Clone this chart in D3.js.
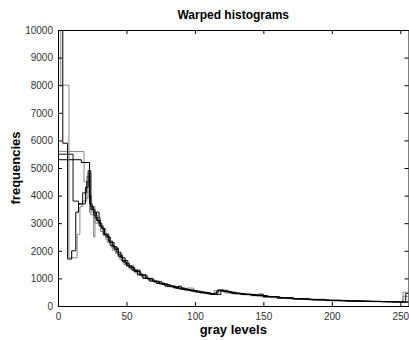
<!DOCTYPE html>
<html>
<head>
<meta charset="utf-8">
<script src="https://cdn.jsdelivr.net/npm/d3@7"></script>
<style>
  html, body { margin: 0; padding: 0; background: #fff; }
  svg { display: block; }
  text { font-family: "Liberation Sans", Arial, sans-serif; }
</style>
</head>
<body>
<div id="chart"></div>
<script>
// ---------- data ----------
const title = "Warped histograms";
const xLabel = "gray levels";
const yLabel = "frequencies";
const xTicks = [0, 50, 100, 150, 200, 250];
const yTicks = [0, 1000, 2000, 3000, 4000, 5000, 6000, 7000, 8000, 9000, 10000];

const s1Edges = [0,2,8,14,16,18,21,23,25,27,29,31,33,35,37,40,43,46,49,52,55,58,62,66,70,75,80,86,92,98,104,110,114,118,122,128,134,140,148,156,166,176,188,200,215,230,245,252,256];
const s1Values = [10000,8000,1750,2600,3600,3800,4700,3400,3600,3000,3200,2700,2800,2400,2300,2000,1900,1650,1500,1350,1250,1100,1050,950,860,800,700,640,580,520,470,430,560,540,470,430,410,370,330,300,270,240,210,190,175,160,150,350];

const s2Edges = [0,3.5,7,10,13,15,20,22,24,26,28,30,32,34,36,38,41,44,47,50,54,58,62,67,72,78,84,88,90,97,104,111,115,119,124,130,137,145,153,162,172,183,195,208,222,236,250,256];
const s2Values = [10000,5900,1700,2000,3400,3700,4300,4900,3500,3300,3400,2900,2800,2600,2500,2200,2100,1800,1600,1450,1300,1150,1000,900,820,720,660,720,600,540,480,430,420,570,500,450,420,380,340,300,270,240,210,190,170,155,140];

const s3Edges = [0,11,15,18,21,23,25,27,29,31,33,35,38,41,44,47,51,55,60,65,70,76,82,88,95,102,109,114,117,121,127,134,142,146,150,160,170,182,195,210,225,240,254,256];
const s3Values = [5500,3800,3700,4100,4500,3700,3500,3200,3100,2900,2600,2500,2300,2050,1850,1650,1450,1300,1120,980,880,780,700,620,560,500,440,470,580,520,460,420,380,430,330,290,260,230,200,180,165,150,450];

const s4Edges = [0,17,23,24,26,28,30,32,34,37,40,43,46,49,52,56,60,64,69,74,80,86,93,100,107,112,116,120,126,133,141,150,160,172,185,198,212,228,244,256];
const s4Values = [5300,5200,4000,3600,3400,3100,3000,2800,2600,2350,2150,1950,1750,1550,1400,1250,1130,1000,900,800,720,650,580,510,460,420,550,530,470,430,390,340,290,250,220,195,175,160,145];

const s5Edges = [0,19,21,22,24,26,27,29,31,33,36,39,42,45,48,52,56,61,66,72,78,85,92,94,99,106,112,116,121,128,136,145,155,166,178,191,205,220,236,252,256];
const s5Values = [5600,4500,3900,4800,3300,2500,3300,3000,2700,2550,2300,2100,1900,1700,1500,1350,1200,1050,920,830,740,660,590,650,520,470,430,580,500,450,410,360,310,270,240,210,185,165,150,500];

const seriesList = [
  { edges: s5Edges, values: s5Values, color: "#8a8a8a" },
  { edges: s1Edges, values: s1Values, color: "#8a8a8a" },
  { edges: s3Edges, values: s3Values, color: "#111" },
  { edges: s4Edges, values: s4Values, color: "#000" },
  { edges: s2Edges, values: s2Values, color: "#000" }
];

// ---------- layout ----------
const W = 409, H = 340;
const margin = { left: 58, top: 30, bottom: 34 };
const plotW = 350.5, plotH = H - margin.top - margin.bottom; // 276

const svg = d3.select("#chart").append("svg").attr("width", W).attr("height", H);

const xScale = d3.scaleLinear().domain([0, 256]).range([margin.left, margin.left + plotW]);
const yScale = d3.scaleLinear().domain([0, 10000]).range([margin.top + plotH, margin.top]);

svg.append("defs").append("clipPath").attr("id", "clip")
  .append("rect").attr("x", margin.left).attr("y", margin.top)
  .attr("width", plotW).attr("height", plotH);

// series as stairs
const stairLine = d3.line().x(d => xScale(d[0])).y(d => yScale(d[1])).curve(d3.curveStepAfter);
const plotG = svg.append("g").attr("clip-path", "url(#clip)");
seriesList.forEach(s => {
  const n = Math.min(s.values.length, s.edges.length - 1);
  const pts = [];
  for (let i = 0; i < n; i++) pts.push([s.edges[i], s.values[i]]);
  pts.push([s.edges[n], s.values[n - 1]]);
  plotG.append("path").attr("d", stairLine(pts))
    .attr("fill", "none").attr("stroke", s.color).attr("stroke-width", 1);
});

// axes (MATLAB-style: inward ticks on all sides)
const tickLen = 4;
const axisColor = "#000";
const fmt = d3.format("d");
const axBottom = svg.append("g").attr("transform", `translate(0,${margin.top + plotH})`)
  .call(d3.axisBottom(xScale).tickValues(xTicks).tickFormat(fmt).tickSizeInner(-tickLen).tickSizeOuter(0).tickPadding(7));
const axTop = svg.append("g").attr("transform", `translate(0,${margin.top})`)
  .call(d3.axisTop(xScale).tickValues(xTicks).tickSizeInner(-tickLen).tickSizeOuter(0).tickFormat(""));
const axLeft = svg.append("g").attr("transform", `translate(${margin.left},0)`)
  .call(d3.axisLeft(yScale).tickValues(yTicks).tickFormat(fmt).tickSizeInner(-tickLen).tickSizeOuter(0).tickPadding(5));
const axRight = svg.append("g").attr("transform", `translate(${margin.left + plotW},0)`)
  .call(d3.axisRight(yScale).tickValues(yTicks).tickSizeInner(-tickLen).tickSizeOuter(0).tickFormat(""));

[axBottom, axTop, axLeft, axRight].forEach(a => {
  a.select(".domain").attr("stroke", axisColor);
  a.selectAll(".tick line").attr("stroke", axisColor);
  a.selectAll("text").attr("font-family", "Liberation Sans, Arial, sans-serif")
    .attr("font-size", 10).attr("fill", "#333");
});

// titles
svg.append("text").attr("x", xScale(128)).attr("y", 19).attr("text-anchor", "middle")
  .attr("font-size", 12).attr("font-weight", "bold").text(title);
svg.append("text").attr("x", xScale(128)).attr("y", 334).attr("text-anchor", "middle")
  .attr("font-size", 13).attr("font-weight", "bold").text(xLabel);
svg.append("text").attr("transform", `translate(20,${margin.top + plotH / 2}) rotate(-90)`)
  .attr("text-anchor", "middle").attr("font-size", 13).attr("font-weight", "bold").text(yLabel);
</script>
</body>
</html>
